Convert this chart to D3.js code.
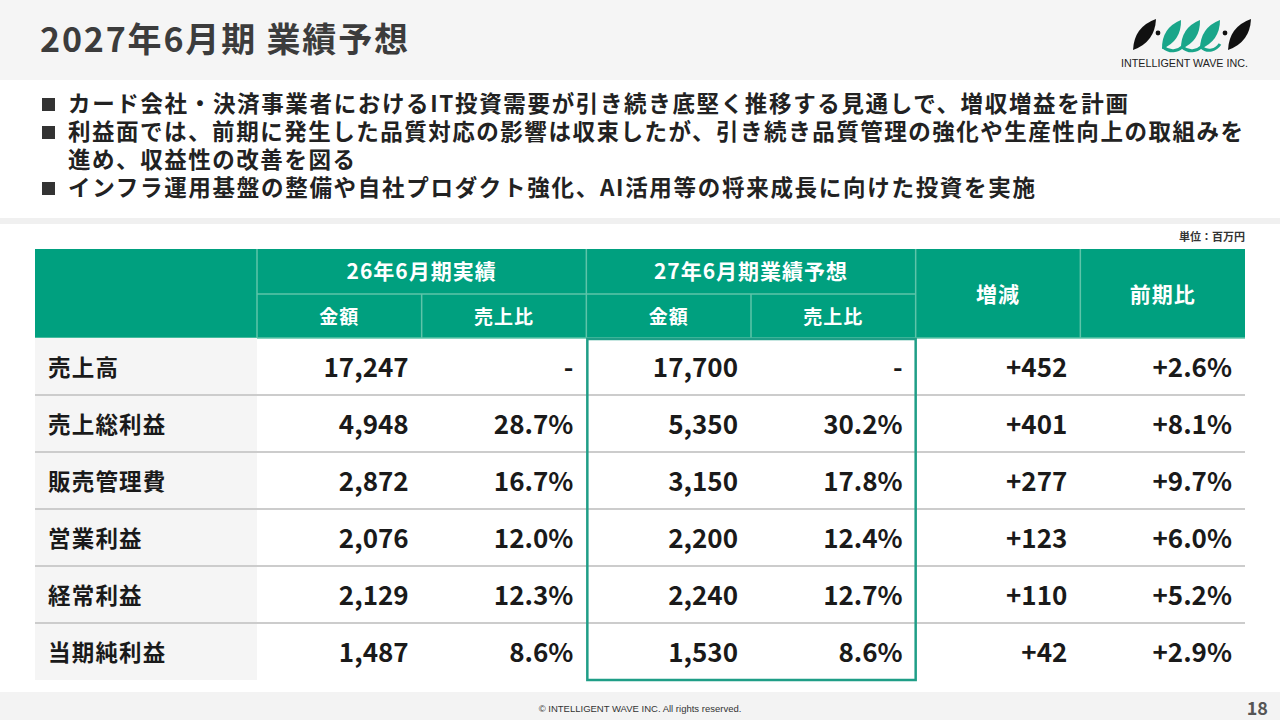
<!DOCTYPE html>
<html>
<head>
<meta charset="utf-8">
<script src="https://cdn.jsdelivr.net/npm/d3@7"></script>
<style>
  body { margin: 0; background: #fff; }
  svg { display: block; font-family: "Noto Sans CJK JP", "Noto Sans", sans-serif; }
</style>
</head>
<body>
<div id="slide"></div>
<script>
// Slide texts
const pageTitle = "2027年6月期 業績予想";
const bullets = [
    { text: "カード会社・決済事業者におけるIT投資需要が引き続き底堅く推移する見通しで、増収増益を計画", mark: true, width: 1060 },
    { text: "利益面では、前期に発生した品質対応の影響は収束したが、引き続き品質管理の強化や生産性向上の取組みを", mark: true, width: 1175 },
    { text: "進め、収益性の改善を図る", mark: false, width: 287 },
    { text: "インフラ運用基盤の整備や自社プロダクト強化、AI活用等の将来成長に向けた投資を実施", mark: true, width: 967 }
];
const unitLabel = "単位：百万円";

// Table data (百万円)
const groupHeaders = ["26年6月期実績", "27年6月期業績予想"];
const subHeaders = ["金額", "売上比"];
const singleHeaders = ["増減", "前期比"];
const rowLabels = ["売上高", "売上総利益", "販売管理費", "営業利益", "経常利益", "当期純利益"];
const actualAmount = [17247, 4948, 2872, 2076, 2129, 1487];
const actualRatio = [null, 28.7, 16.7, 12.0, 12.3, 8.6];
const forecastAmount = [17700, 5350, 3150, 2200, 2240, 1530];
const forecastRatio = [null, 30.2, 17.8, 12.4, 12.7, 8.6];
const changeAmount = [452, 401, 277, 123, 110, 42];
const changePct = [2.6, 8.1, 9.7, 6.0, 5.2, 2.9];

const W = 1280, H = 720;
const teal = "#00a07f";
const tealLine = "#5ec4a9";
const ink = "#1a1a1a";

const svg = d3.select("#slide").append("svg")
    .attr("width", W)
    .attr("height", H);

// Background bands
svg.append("rect").attr("x", 0).attr("y", 0).attr("width", W).attr("height", 80).attr("fill", "#f5f5f5");
svg.append("rect").attr("x", 0).attr("y", 218).attr("width", W).attr("height", 6).attr("fill", "#f0f0f0");
svg.append("rect").attr("x", 0).attr("y", 692).attr("width", W).attr("height", 28).attr("fill", "#f3f3f3");

// Title
svg.append("text")
    .attr("x", 40).attr("y", 52)
    .attr("font-size", 34).attr("font-weight", 700)
    .attr("fill", "#3c3c3c")
    .attr("textLength", 368).attr("lengthAdjust", "spacing")
    .text(pageTitle);

// Logo
const logo = svg.append("g").attr("class", "logo");
function leaf(x0, y0, x1, y1, w) {
    // lens shape from bottom-left to top-right, max thickness ~w
    const mx = (x0 + x1) / 2, my = (y0 + y1) / 2;
    const len = Math.hypot(x1 - x0, y1 - y0);
    const nx = -(y1 - y0) / len, ny = (x1 - x0) / len;
    return `M${x0},${y0} Q${mx + nx * w},${my + ny * w} ${x1},${y1} Q${mx - nx * w},${my - ny * w} ${x0},${y0} Z`;
}
logo.append("path").attr("d", leaf(1133, 50, 1156, 19, 13)).attr("fill", "#111");
logo.append("path").attr("d", leaf(1228, 50, 1251, 19, 13)).attr("fill", "#111");
logo.append("circle").attr("cx", 1158).attr("cy", 33).attr("r", 2.4).attr("fill", "#111");
logo.append("circle").attr("cx", 1225).attr("cy", 33).attr("r", 2.4).attr("fill", "#111");
[[1162, 1181], [1181, 1200], [1200, 1220]].forEach(([b, t]) => {
    logo.append("path").attr("d", leaf(b, 49, t, 20, 12)).attr("fill", "#1aa68a");
});
logo.append("path")
    .attr("d", "M1163,47 C1170,53 1178,51 1182,47 C1189,53 1197,51 1201,47 C1208,53 1216,50 1220,44")
    .attr("fill", "none").attr("stroke", "#1aa68a").attr("stroke-width", 3);
logo.append("text")
    .attr("x", 1121).attr("y", 67)
    .attr("font-family", "'Liberation Sans Narrow', 'Liberation Sans', sans-serif")
    .attr("font-size", 11).attr("fill", "#222")
    .attr("textLength", 127).attr("lengthAdjust", "spacingAndGlyphs")
    .text("INTELLIGENT WAVE INC.");

// Bullets
const bulletY = d3.scaleLinear().domain([0, 1]).range([112, 140]);
const bg = svg.append("g").attr("class", "bullets");
bullets.forEach((b, i) => {
    const yy = bulletY(i);
    if (b.mark) {
        bg.append("rect").attr("x", 42).attr("y", yy - 14).attr("width", 13).attr("height", 13).attr("fill", "#333");
    }
    bg.append("text")
        .attr("x", 68).attr("y", yy)
        .attr("font-size", 22.5).attr("font-weight", 700).attr("fill", "#222")
        .attr("textLength", b.width).attr("lengthAdjust", "spacing")
        .text(b.text);
});

// Unit label
svg.append("text")
    .attr("x", 1245).attr("y", 241)
    .attr("text-anchor", "end")
    .attr("font-size", 11).attr("font-weight", 700).attr("fill", "#333")
    .text(unitLabel);

// Table scales
const colKeys = ["aAmt", "aRat", "fAmt", "fRat", "chg", "pct"];
const tableLeft = 35, labelRight = 257, tableRight = 1245;
const headTop = 249, headMid = 294, headBottom = 338, tableBottom = 680;

const x = d3.scaleBand().domain(colKeys).range([labelRight, tableRight]);
const y = d3.scaleBand().domain(rowLabels).range([headBottom, tableBottom]);
const bw = x.bandwidth();

const fmtAmt = d3.format(",");
const fmtPct = d3.format(".1f");
const cellText = {
    aAmt: i => fmtAmt(actualAmount[i]),
    aRat: i => actualRatio[i] == null ? "-" : fmtPct(actualRatio[i]) + "%",
    fAmt: i => fmtAmt(forecastAmount[i]),
    fRat: i => forecastRatio[i] == null ? "-" : fmtPct(forecastRatio[i]) + "%",
    chg: i => "+" + changeAmount[i],
    pct: i => "+" + fmtPct(changePct[i]) + "%"
};

const table = svg.append("g").attr("class", "table");

// Header
table.append("rect")
    .attr("x", tableLeft).attr("y", headTop)
    .attr("width", tableRight - tableLeft).attr("height", headBottom - headTop)
    .attr("fill", teal);

const headLines = table.append("g").attr("stroke", tealLine).attr("stroke-width", 1.5);
headLines.append("line")
    .attr("x1", x("aAmt")).attr("x2", x("chg"))
    .attr("y1", headMid).attr("y2", headMid);
["aAmt", "fAmt", "chg", "pct"].forEach(k => {
    headLines.append("line").attr("x1", x(k)).attr("x2", x(k)).attr("y1", headTop).attr("y2", headBottom);
});
["aRat", "fRat"].forEach(k => {
    headLines.append("line").attr("x1", x(k)).attr("x2", x(k)).attr("y1", headMid).attr("y2", headBottom);
});
headLines.append("line")
    .attr("x1", tableLeft).attr("x2", tableRight)
    .attr("y1", headBottom).attr("y2", headBottom);

const headText = table.append("g")
    .attr("fill", "#fff").attr("font-weight", 700).attr("text-anchor", "middle");
[["aAmt", "aRat"], ["fAmt", "fRat"]].forEach((pair, gi) => {
    const cx = (x(pair[0]) + x(pair[1]) + bw) / 2;
    headText.append("text")
        .attr("x", cx).attr("y", 279)
        .attr("font-size", 21).attr("letter-spacing", 1)
        .text(groupHeaders[gi]);
    pair.forEach((k, si) => {
        headText.append("text")
            .attr("x", x(k) + bw / 2).attr("y", 324)
            .attr("font-size", 19).attr("letter-spacing", 1)
            .text(subHeaders[si]);
    });
});
["chg", "pct"].forEach((k, i) => {
    headText.append("text")
        .attr("x", x(k) + bw / 2).attr("y", 302)
        .attr("font-size", 21).attr("letter-spacing", 1)
        .text(singleHeaders[i]);
});

// Body: label column background
table.append("rect")
    .attr("x", tableLeft).attr("y", headBottom)
    .attr("width", labelRight - tableLeft).attr("height", tableBottom - headBottom)
    .attr("fill", "#f5f5f5");

// Row separators
table.append("g").selectAll("line")
    .data(rowLabels.slice(1))
    .join("line")
    .attr("x1", tableLeft).attr("x2", tableRight)
    .attr("y1", d => y(d)).attr("y2", d => y(d))
    .attr("stroke", "#cccccc").attr("stroke-width", 2);

// Row labels
table.append("g").selectAll("text")
    .data(rowLabels)
    .join("text")
    .attr("x", 48)
    .attr("y", d => y(d) + y.bandwidth() / 2 + 9)
    .attr("font-size", 22.5).attr("font-weight", 700).attr("fill", ink)
    .attr("letter-spacing", 1.2)
    .text(d => d);

// Cells
const cells = [];
rowLabels.forEach((r, i) => colKeys.forEach(k => cells.push({ r, i, k })));
table.append("g").selectAll("text")
    .data(cells)
    .join("text")
    .attr("x", d => x(d.k) + bw - 13)
    .attr("y", d => y(d.r) + y.bandwidth() / 2 + 10)
    .attr("text-anchor", "end")
    .attr("font-size", 26).attr("font-weight", 700).attr("fill", ink)
    .text(d => cellText[d.k](d.i));

// Forecast highlight box
table.append("rect")
    .attr("x", x("fAmt") + 1).attr("y", headBottom + 1)
    .attr("width", 2 * bw - 1).attr("height", tableBottom - headBottom - 1)
    .attr("fill", "none").attr("stroke", "#1f9e87").attr("stroke-width", 2.5);

// Footer
svg.append("text")
    .attr("x", 640).attr("y", 712)
    .attr("text-anchor", "middle")
    .attr("font-family", "'Liberation Sans Narrow', 'Liberation Sans', sans-serif")
    .attr("font-size", 9.5).attr("fill", "#333")
    .text("© INTELLIGENT WAVE INC. All rights reserved.");
svg.append("text")
    .attr("x", 1268).attr("y", 715)
    .attr("text-anchor", "end")
    .attr("font-size", 18).attr("font-weight", 700).attr("fill", "#555")
    .text("18");
</script>
</body>
</html>
